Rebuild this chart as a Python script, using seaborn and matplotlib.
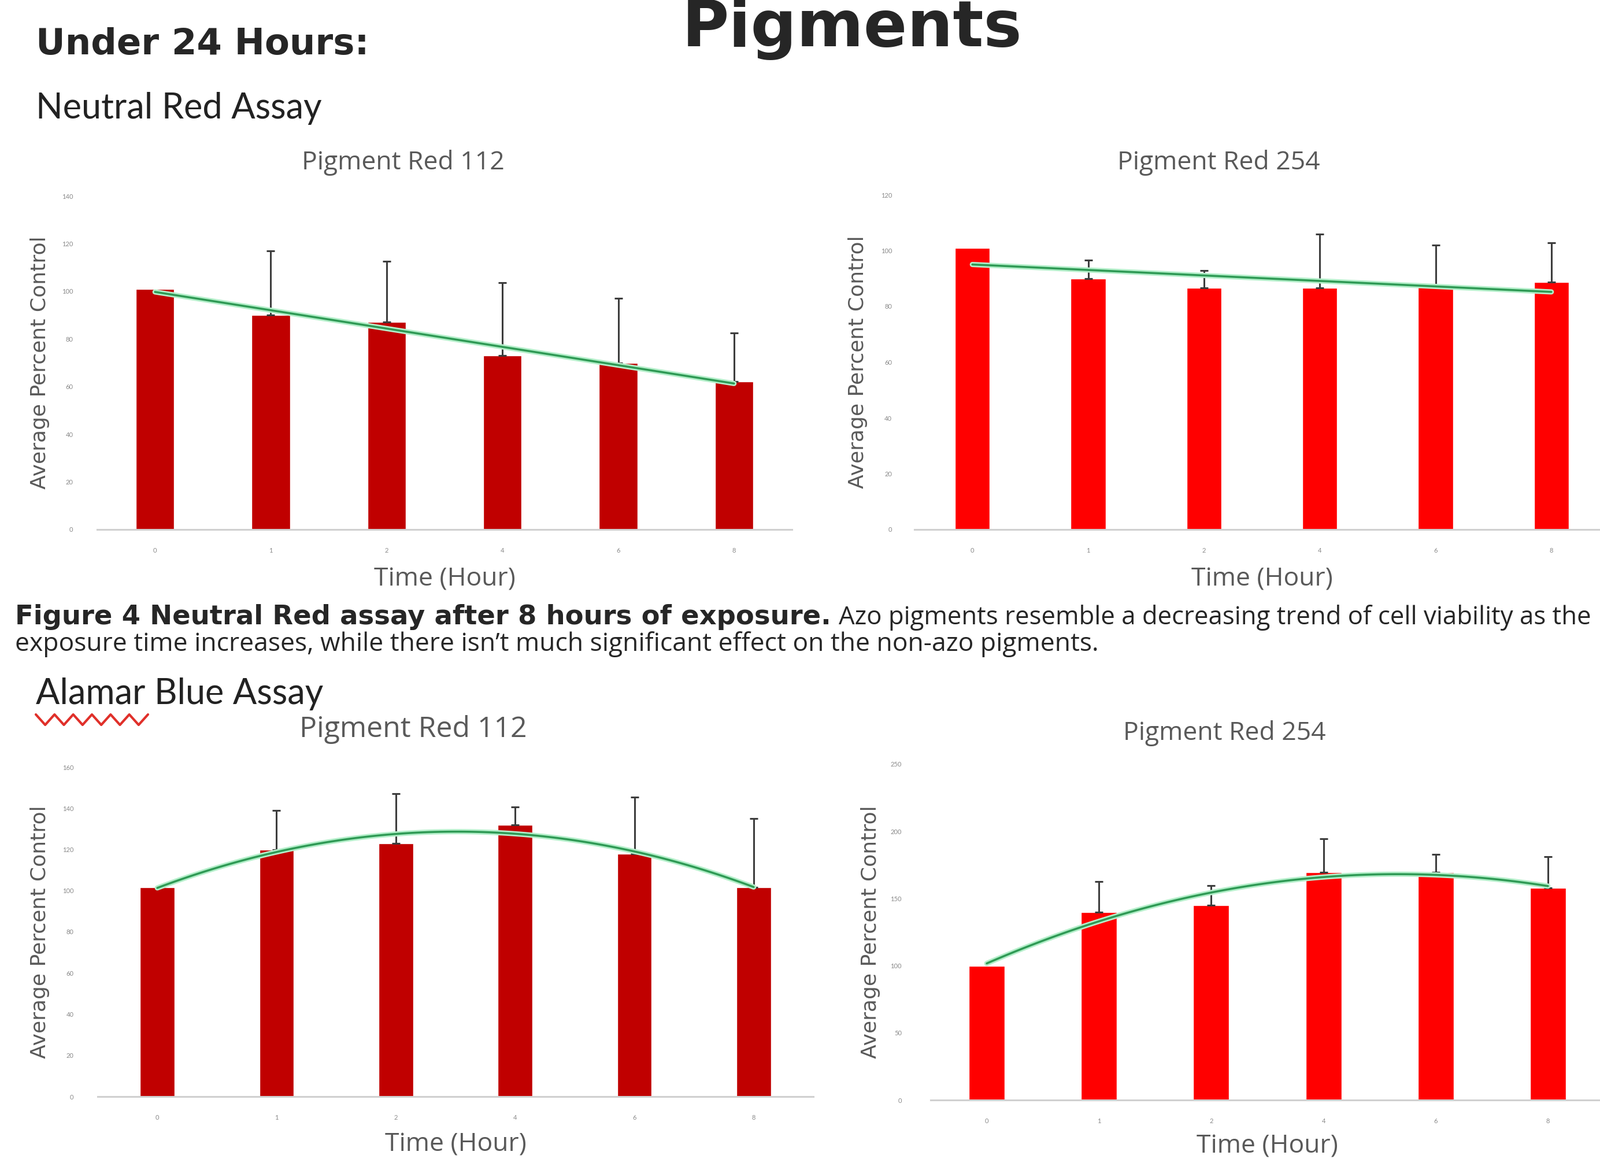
import numpy as np
import pandas as pd
import matplotlib
matplotlib.use("Agg")
import matplotlib.pyplot as plt
import matplotlib.patheffects as pe
from matplotlib.lines import Line2D
import seaborn as sns

# ---------------- data ----------------
hours = ["0", "1", "2", "4", "6", "8"]

nr_112_mean = [101, 90, 87, 73, 70, 62]
nr_112_upper = [None, 117, 112.5, 103.5, 97, 82.5]

nr_254_mean = [101, 90, 86.7, 86.7, 87.4, 88.8]
nr_254_upper = [None, 96.5, 92.8, 106, 102, 102.7]

ab_112_mean = [101.5, 120, 123, 132, 118, 101.5]
ab_112_upper = [None, 139, 147, 140.5, 145.5, 135]

ab_254_mean = [100, 140, 145, 169.5, 169.5, 158]
ab_254_upper = [None, 162.5, 159.5, 194.5, 183, 181]

titles = ["Pigment Red 112", "Pigment Red 254", "Pigment Red 112", "Pigment Red 254"]
y_label = "Average Percent Control"
x_label = "Time (Hour)"

# ---------------- style ----------------
sns.set_style("white")
plt.rcParams["font.family"] = ["Lato", "DejaVu Sans"]

W, H = 2768, 2005
fig = plt.figure(figsize=(W / 100, H / 100), dpi=100)
fig.patch.set_facecolor("white")


def axes_px(left, top, right, bottom):
    return fig.add_axes([left / W, 1 - bottom / H, (right - left) / W, (bottom - top) / H])


GRAY = "#595959"


def draw_panel(ax, means, upper, color, ymax, ystep, order, width, title, tx, ty, tsize,
               ylab_dx, ytick_pad, xlabpad):
    df = pd.DataFrame({"hour": hours, "value": means})
    sns.barplot(data=df, x="hour", y="value", color=color, saturation=1,
                width=width, errorbar=None, ax=ax, zorder=1)
    idx = np.arange(len(hours))
    sel = [i for i, u in enumerate(upper) if u is not None]
    m = np.array(means, dtype=float)
    u = np.array([upper[i] for i in sel], dtype=float)
    ax.errorbar(idx[sel], m[sel], yerr=[np.zeros(len(sel)), u - m[sel]], fmt="none",
                ecolor="#3d3d3d", elinewidth=2.2, capsize=5, capthick=2.2, zorder=3)
    sns.regplot(x=idx, y=m, order=order, scatter=False, ci=None, ax=ax,
                line_kws=dict(color="#2f9a55", lw=2.6, zorder=4,
                              path_effects=[pe.Stroke(linewidth=6.5, foreground="#b4efca"),
                                            pe.Normal()]))
    ax.set_xlim(-0.5, len(hours) - 0.5)
    ax.set_ylim(0, ymax)
    ax.set_yticks(np.arange(0, ymax + 0.1, ystep))
    ax.set_xticks(idx)
    ax.set_xticklabels(hours)
    for s in ["top", "right", "left"]:
        ax.spines[s].set_visible(False)
    ax.spines["bottom"].set_color("#d0d0d0")
    ax.spines["bottom"].set_linewidth(2.2)
    ax.tick_params(axis="both", length=0, labelsize=8, labelcolor="#8a8a8a")
    ax.tick_params(axis="x", pad=22)
    ax.tick_params(axis="y", pad=ytick_pad)
    ax.set_ylabel(y_label, family="DejaVu Sans", fontsize=26, color=GRAY)
    ax.yaxis.set_label_coords(ylab_dx, 0.5)
    ax.set_xlabel(x_label, family="Open Sans", fontsize=32, color=GRAY, labelpad=xlabpad)
    ax.set_title(title, x=tx, y=ty, va="center", ha="center", family="Open Sans",
                 fontsize=tsize, color=GRAY)
    ax.grid(False)


ax1 = axes_px(168, 339, 1370, 916)
draw_panel(ax1, nr_112_mean, nr_112_upper, "#C00000", 140, 20, 1, 0.33,
           titles[0], 0.44, 1.085, 32, -0.068, 30, 16)

ax2 = axes_px(1582, 337, 2784, 916)
draw_panel(ax2, nr_254_mean, nr_254_upper, "#FF0000", 120, 20, 1, 0.30,
           titles[1], 0.438, 1.082, 32, -0.067, 28, 16)

ax3 = axes_px(169, 1327, 1407, 1897)
draw_panel(ax3, ab_112_mean, ab_112_upper, "#C00000", 160, 20, 2, 0.29,
           titles[2], 0.441, 1.10, 36, -0.067, 30, 14)

ax4 = axes_px(1610, 1322, 2775, 1903)
draw_panel(ax4, ab_254_mean, ab_254_upper, "#FF0000", 250, 50, 2, 0.32,
           titles[3], 0.436, 1.077, 32, -0.075, 36, 12)

# ---------------- slide texts ----------------
def fy(px):
    return 1 - px / H


fig.text(1474 / W, fy(80), "Pigments", family="DejaVu Sans", fontweight="bold",
         fontsize=80, ha="center", va="baseline")
fig.text(62 / W, fy(94), "Under 24 Hours:", family="DejaVu Sans", fontweight="heavy",
         fontsize=45, ha="left", va="baseline")
fig.text(62 / W, fy(205), "Neutral Red Assay", family="Lato", fontsize=44,
         ha="left", va="baseline", color="#222222")
fig.text(26 / W, fy(1080), "Figure 4 Neutral Red assay after 8 hours of exposure.",
         family="DejaVu Sans", fontweight="bold", fontsize=33.5, ha="left", va="baseline")
fig.text(1451 / W, fy(1080),
         "Azo pigments resemble a decreasing trend of cell viability as the",
         family="Open Sans", fontsize=31.5, ha="left", va="baseline")
fig.text(26 / W, fy(1126),
         "exposure time increases, while there isn\u2019t much significant effect on the non-azo pigments.",
         family="Open Sans", fontsize=32, ha="left", va="baseline")
fig.text(62 / W, fy(1218), "Alamar Blue Assay", family="Lato", fontsize=44,
         ha="left", va="baseline", color="#222222")

# spell-check squiggle under "Alamar"
zx = np.linspace(62, 256, 13)
zy = np.where(np.arange(13) % 2 == 0, 1236, 1254)
fig.add_artist(Line2D(zx / W, 1 - zy / H, color="#e0302a", lw=3, transform=fig.transFigure))

fig.savefig("out.png", dpi=100, facecolor="white")
